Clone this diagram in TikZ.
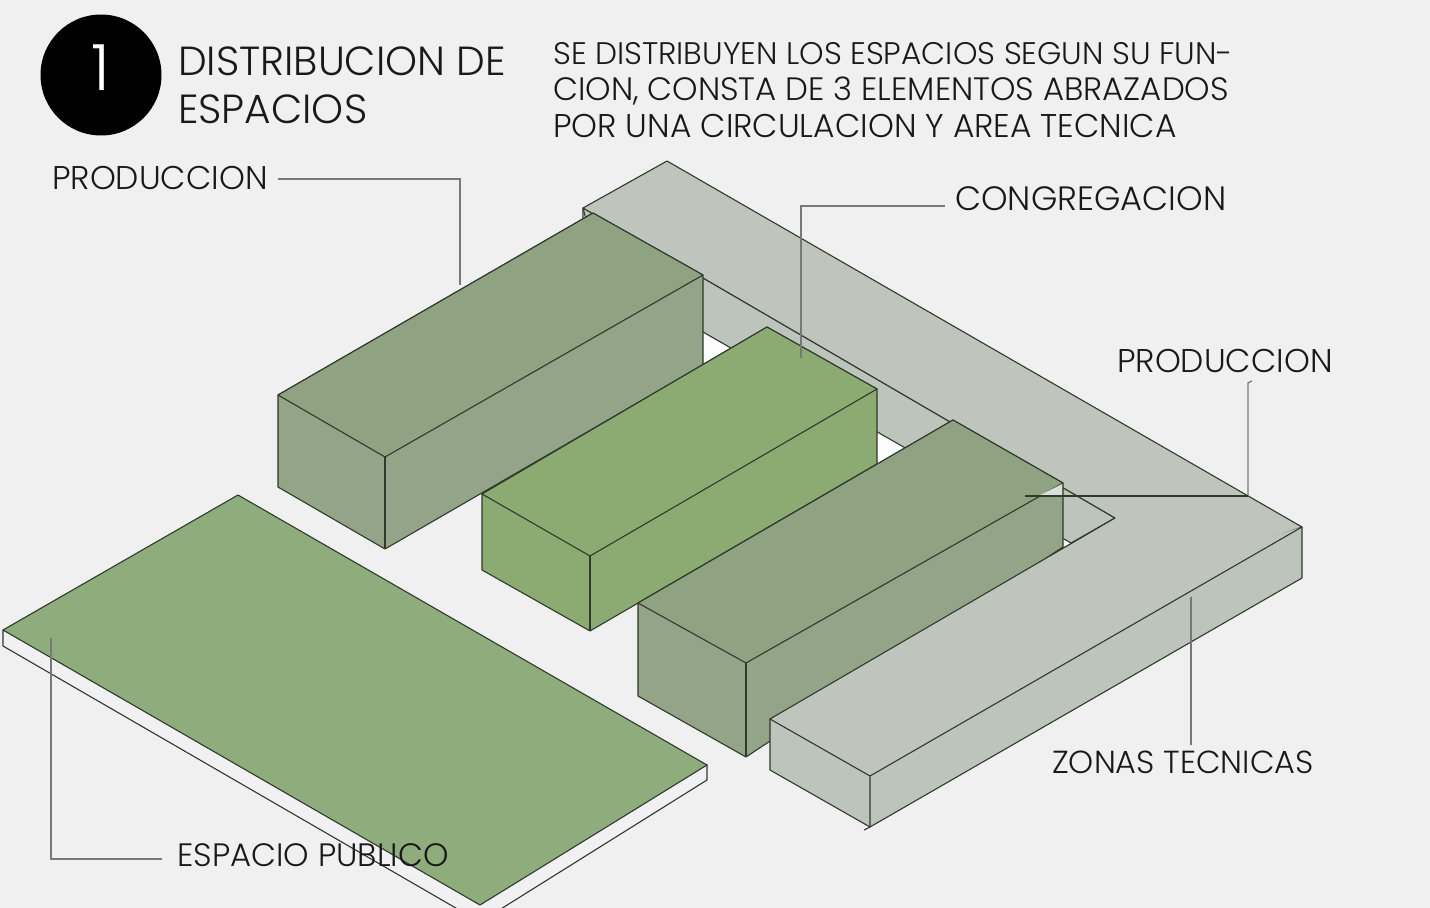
\documentclass[tikz,border=0pt]{standalone}
\usepackage{fontspec}
\setmainfont{Poppins Light}
\usetikzlibrary{shapes}
\definecolor{paper}{HTML}{F0F0F0}
\definecolor{court}{HTML}{FCFCFC}
\definecolor{edge}{HTML}{2E3A2B}
\definecolor{leaderc}{HTML}{767A76}
\definecolor{slabgreen}{HTML}{8FAD7C}
\definecolor{slabside}{HTML}{F1F0F3}
\definecolor{congtop}{HTML}{8CAB73}
\definecolor{congside}{HTML}{8BAB72}
\definecolor{prodtop}{HTML}{8FA383}
\definecolor{prodside}{HTML}{93A489}
\definecolor{zonetop}{HTML}{BFC5BD}
\definecolor{zoneside}{HTML}{BDC4BC}
\tikzset{
  face/.style={draw=edge,line width=1.1bp,line join=round},
  leader/.style={draw=leaderc,line width=1.2bp},
  tag/.style={inner sep=0pt,anchor=west,text=black!90,font=\fontsize{33}{37}\selectfont},
}
\begin{document}
\begin{tikzpicture}[scale=1]
\useasboundingbox (0bp,0bp) rectangle (1430bp,-908bp);
\fill [paper] (0bp,0bp) rectangle (1430bp,-908bp);
\fill [court] (703bp,-332bp) -- (1071bp,-543bp) -- (1060bp,-560bp) -- (877bp,-470bp) -- (800bp,-420bp) -- (700bp,-360bp) -- cycle;
\draw [face,fill=court] (583bp,-208bp) -- (583bp,-219bp) -- (600bp,-225bp) -- cycle;
\draw [face,fill=zoneside] (583bp,-208bp) -- (1115bp,-518bp) -- (1071bp,-543bp) -- (703bp,-332bp) -- (600bp,-272bp) -- cycle;
\draw [face,fill=zonetop] (583bp,-208bp) -- (667bp,-161bp) -- (1302bp,-527bp) -- (870bp,-776bp) -- (770bp,-719bp) -- (1115bp,-518bp) -- cycle;
\draw [face,fill=prodside] (593bp,-213bp) -- (703bp,-275bp) -- (703bp,-365bp) -- (385bp,-549bp) -- (278bp,-487bp) -- (278bp,-395bp) -- cycle;
\draw [face,fill=prodtop] (593bp,-213bp) -- (703bp,-275bp) -- (385bp,-457bp) -- (278bp,-395bp) -- cycle;
\draw [face] (385bp,-457bp) -- (385bp,-549bp);
\draw [face,fill=congside] (767bp,-327bp) -- (877bp,-389bp) -- (877bp,-464bp) -- (590bp,-631bp) -- (482bp,-570bp) -- (482bp,-494bp) -- cycle;
\draw [face,fill=congtop] (767bp,-327bp) -- (877bp,-389bp) -- (590bp,-556bp) -- (482bp,-494bp) -- cycle;
\draw [face] (590bp,-556bp) -- (590bp,-631bp);
\draw [face,fill=prodside] (953bp,-420bp) -- (1063bp,-483bp) -- (1063bp,-547bp) -- (746bp,-757bp) -- (638bp,-696bp) -- (638bp,-603bp) -- cycle;
\draw [face,fill=prodtop] (953bp,-420bp) -- (1063bp,-483bp) -- (746bp,-663bp) -- (638bp,-603bp) -- cycle;
\draw [face] (746bp,-663bp) -- (746bp,-757bp);
\fill [zoneside!55!white] (1040bp,-495bp) -- (1062bp,-484bp) -- (1062bp,-495bp) -- cycle;
\draw [face,fill=zoneside] (1302bp,-527bp) -- (1302bp,-578bp) -- (870bp,-827bp) -- (770bp,-770bp) -- (770bp,-719bp) -- cycle;
\fill [zonetop] (770bp,-719bp) -- (1115bp,-518bp) -- (1200bp,-560bp) -- (1302bp,-527bp) -- (870bp,-776bp) -- cycle;
\draw [face] (1115bp,-518bp) -- (770bp,-719bp) -- (870bp,-776bp) -- (1302bp,-527bp);
\draw [face] (870bp,-776bp) -- (870bp,-827bp) -- (864bp,-830bp);
\draw [face,fill=slabside] (3bp,-630bp) -- (3bp,-646bp) -- (480bp,-922bp) -- (707bp,-780bp) -- (707bp,-765bp) -- cycle;
\draw [face,fill=slabgreen] (238bp,-495bp) -- (707bp,-765bp) -- (480bp,-905bp) -- (3bp,-630bp) -- cycle;
\node (badge) at (101bp,-75bp)[circle,fill=black,minimum size=121bp,inner sep=0pt,text=white,font=\fontsize{64}{64}\selectfont] {\raisebox{15bp}{1}};
\node (title) at (178bp,-85bp)[tag,align=left,font=\fontsize{40.8}{48}\selectfont] {DISTRIBUCION DE\\ESPACIOS};
\node (intro) at (553bp,-90bp)[tag,align=left] {\fontsize{31.3}{37}\selectfont SE DISTRIBUYEN LOS ESPACIOS SEGUN SU FUN-\\\fontsize{32.5}{37}\selectfont CION, CONSTA DE 3 ELEMENTOS ABRAZADOS\\\fontsize{33}{37}\selectfont POR UNA CIRCULACION Y AREA TECNICA};
\node (prodA) at (52bp,-178bp)[tag] {PRODUCCION};
\node (cong) at (955bp,-199bp)[tag,font=\fontsize{33.9}{37}\selectfont] {CONGREGACION};
\node (prodB) at (1117bp,-361bp)[tag] {PRODUCCION};
\node (zonas) at (1052bp,-762bp)[tag,font=\fontsize{32}{37}\selectfont] {ZONAS TECNICAS};
\node (espacio) at (177bp,-855bp)[tag,font=\fontsize{32.5}{37}\selectfont] {ESPACIO PUBLICO};
\coordinate (prodAend) at (460bp,-285bp);
\coordinate (congend) at (801bp,-358bp);
\coordinate (prodBtop) at (1252bp,-381bp);
\coordinate (prodBend) at (1025bp,-496bp);
\coordinate (zonasend) at (1191bp,-597bp);
\coordinate (zonastop) at (1191bp,-745bp);
\coordinate (espacioend) at (51bp,-638bp);
\coordinate (espaciocorner) at (51bp,-859bp);
\coordinate (espaciostart) at (162bp,-859bp);
\draw [leader] (278bp,-179bp) -| (prodAend);
\draw [leader] (945bp,-206bp) -| (congend);
\draw [leader] (prodBtop) -- (1248bp,-383bp) -- (1248bp,-496bp);
\draw [draw=edge,line width=1.1bp] (1248bp,-496bp) -- (prodBend);
\draw [leader] (zonasend) -- (zonastop);
\draw [leader] (espacioend) -- (espaciocorner) -- (espaciostart);
\end{tikzpicture}
\end{document}
